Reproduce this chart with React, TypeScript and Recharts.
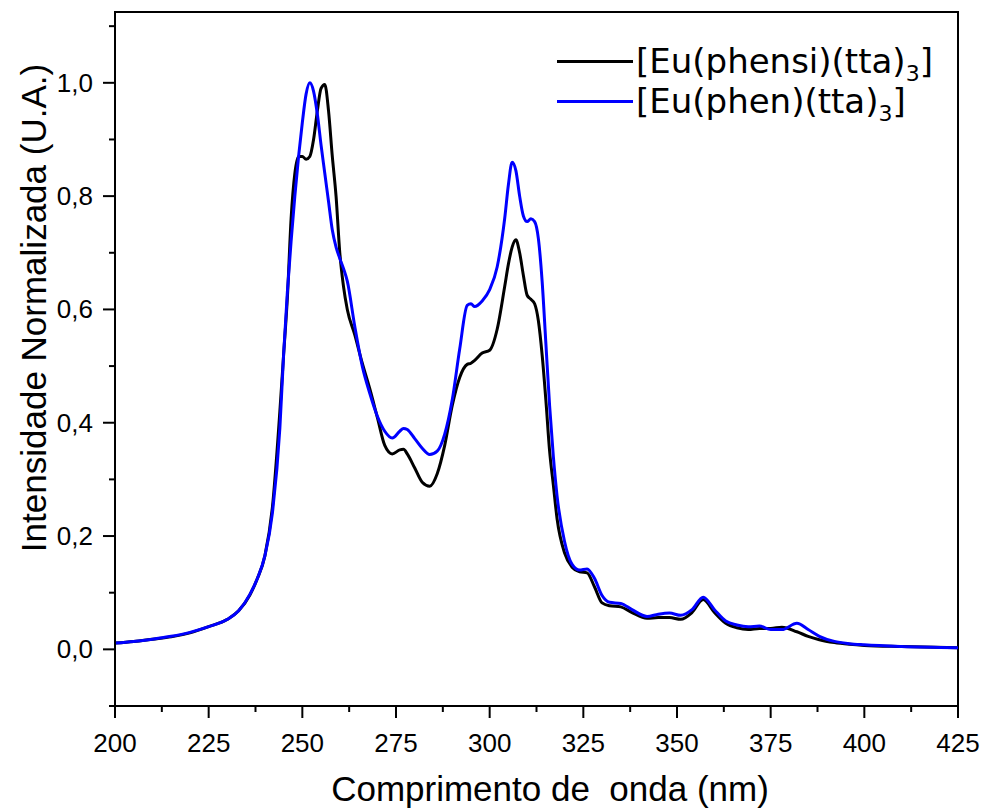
import React from 'react';
import { LineChart, Line, XAxis, YAxis, ReferenceArea } from 'recharts';

// comprimento de onda (nm)
const wavelengths = [
  200, 205, 210, 215, 220, 225, 230, 233, 236, 238, 240, 242, 244, 245, 246, 247, 248, 249, 250,
  251, 252, 253, 254, 255, 256, 257, 258, 259, 260, 261, 262, 264, 266, 268, 270, 272, 274, 276,
  277, 278, 280, 282, 284, 286, 288, 290, 292, 294, 295, 296, 298, 300, 302, 304, 305, 306, 307,
  308, 309, 310, 311, 312, 313, 314, 315, 316, 317, 318, 320, 322, 324, 326, 328, 330, 332, 335,
  338, 342, 345, 348, 351, 354, 357, 360, 363, 366, 369, 372, 375, 378, 382, 385, 388, 392, 396,
  400, 410, 425,
];

const phensi = [
  0.011, 0.014, 0.018, 0.022, 0.029, 0.04, 0.053, 0.068, 0.096, 0.125, 0.165, 0.25, 0.42, 0.52,
  0.62, 0.76, 0.84, 0.87, 0.87, 0.865, 0.87, 0.9, 0.95, 0.99, 0.997, 0.95, 0.87, 0.8, 0.7, 0.64,
  0.6, 0.555, 0.505, 0.46, 0.41, 0.36, 0.345, 0.352, 0.353, 0.345, 0.32, 0.295, 0.288, 0.31, 0.36,
  0.43, 0.48, 0.503, 0.505, 0.51, 0.523, 0.528, 0.565, 0.64, 0.68, 0.71, 0.723, 0.7, 0.66, 0.625,
  0.618, 0.61, 0.58, 0.52, 0.44, 0.35, 0.29, 0.23, 0.17, 0.145, 0.137, 0.135, 0.11, 0.082, 0.077,
  0.075, 0.065, 0.055, 0.056, 0.056, 0.053, 0.065, 0.088, 0.065, 0.046, 0.038, 0.035, 0.037,
  0.037, 0.039, 0.031, 0.023, 0.017, 0.012, 0.009, 0.007, 0.005, 0.003,
];

const phen = [
  0.011, 0.014, 0.018, 0.023, 0.03, 0.04, 0.053, 0.068, 0.097, 0.125, 0.165, 0.24, 0.39, 0.52,
  0.63, 0.72, 0.8, 0.87, 0.93, 0.98, 1.0, 0.985, 0.945, 0.89, 0.84, 0.79, 0.74, 0.71, 0.69, 0.672,
  0.65, 0.57, 0.5, 0.452, 0.412, 0.385, 0.373, 0.385, 0.39, 0.388, 0.372, 0.355, 0.344, 0.35,
  0.38, 0.44, 0.53, 0.607, 0.61, 0.605, 0.615, 0.635, 0.675, 0.76, 0.82, 0.86, 0.845, 0.8, 0.765,
  0.755, 0.76, 0.755, 0.725, 0.65, 0.54, 0.43, 0.34, 0.27, 0.19, 0.15, 0.14, 0.142, 0.125, 0.095,
  0.083, 0.081, 0.07, 0.058, 0.062, 0.064, 0.06, 0.07, 0.092, 0.07, 0.05, 0.043, 0.04, 0.041,
  0.035, 0.035, 0.046, 0.035, 0.023, 0.014, 0.01, 0.008, 0.005, 0.003,
];

const xTicks = [200, 212.5, 225, 237.5, 250, 262.5, 275, 287.5, 300, 312.5, 325, 337.5, 350, 362.5, 375, 387.5, 400, 412.5, 425];
const yTicks = [-0.1, 0, 0.1, 0.2, 0.3, 0.4, 0.5, 0.6, 0.7, 0.8, 0.9, 1.0, 1.1];

const series = [
  { key: 'phensi', name: 'Eu(phensi)(tta)', color: '#000000' },
  { key: 'phen', name: 'Eu(phen)(tta)', color: '#0000ff' },
];

const data = wavelengths.map((w, i) => ({ w, phensi: phensi[i], phen: phen[i] }));

const FONT = '"Liberation Sans", Arial, sans-serif';

const XTick = ({ x, y, payload }: any) => {
  const major = Math.abs(payload.value % 25) < 1e-6;
  return (
    <g>
      <line x1={x} x2={x} y1={y} y2={y + (major ? 12 : 6)} stroke="#000" strokeWidth={2} />
      {major && (
        <text x={x} y={y + 46} textAnchor="middle" fontSize={26} fontFamily={FONT} fill="#000">
          {payload.value}
        </text>
      )}
    </g>
  );
};

const YTick = ({ x, y, payload }: any) => {
  const v = Math.round(payload.value * 10);
  const major = v >= 0 && v <= 10 && v % 2 === 0;
  return (
    <g>
      <line x1={x} x2={x - (major ? 12 : 6)} y1={y} y2={y} stroke="#000" strokeWidth={2} />
      {major && (
        <text x={x - 22} y={y} textAnchor="end" dominantBaseline="central" fontSize={26} fontFamily={FONT} fill="#000">
          {(v / 10).toFixed(1).replace('.', ',')}
        </text>
      )}
    </g>
  );
};

export default function App() {
  return (
    <div style={{ position: 'absolute', left: 0, top: 0, width: 984, height: 811, background: '#fff' }}>
      <LineChart width={984} height={811} data={data} margin={{ top: 12, right: 26, left: 0, bottom: 0 }}>
        <XAxis
          dataKey="w"
          type="number"
          domain={[200, 425]}
          ticks={xTicks}
          interval={0}
          height={105}
          tickSize={0}
          tickMargin={0}
          tick={<XTick />}
          axisLine={{ stroke: '#000', strokeWidth: 2 }}
          label={{
            content: () => (
              <text x={550} y={801} textAnchor="middle" fontSize={35} fontFamily={FONT} fill="#000" style={{ whiteSpace: 'pre' }}>
                Comprimento de  onda (nm)
              </text>
            ),
          }}
        />
        <YAxis
          type="number"
          domain={[-0.1, 1.125]}
          ticks={yTicks}
          interval={0}
          width={115}
          tickSize={0}
          tickMargin={0}
          tick={<YTick />}
          axisLine={{ stroke: '#000', strokeWidth: 2 }}
          label={{
            content: () => (
              <text
                x={33}
                y={308}
                transform="rotate(-90 33 308)"
                textAnchor="middle"
                dominantBaseline="central"
                fontSize={35}
                fontFamily={FONT}
                fill="#000"
              >
                Intensidade Normalizada (U.A.)
              </text>
            ),
          }}
        />
        <ReferenceArea x1={200} x2={425} y1={-0.1} y2={1.125} fill="none" stroke="#000" strokeWidth={2} />
        {series.map((s) => (
          <Line
            key={s.key}
            type="monotone"
            dataKey={s.key}
            stroke={s.color}
            strokeWidth={3}
            dot={false}
            isAnimationActive={false}
          />
        ))}
      </LineChart>
      <div
        style={{
          position: 'absolute',
          left: 557,
          top: 41,
          fontFamily: '"DejaVu Sans", sans-serif',
          fontSize: 34,
          color: '#000',
          lineHeight: '40px',
        }}
      >
        {series.map((s) => (
          <div key={s.key} style={{ display: 'flex', alignItems: 'center', height: 40 }}>
            <span style={{ display: 'inline-block', width: 76, height: 3, background: s.color, marginRight: 3 }} />
            <span style={{ whiteSpace: 'nowrap' }}>
              [{s.name}
              <sub style={{ fontSize: 22, lineHeight: 0 }}>3</sub>]
            </span>
          </div>
        ))}
      </div>
    </div>
  );
}
